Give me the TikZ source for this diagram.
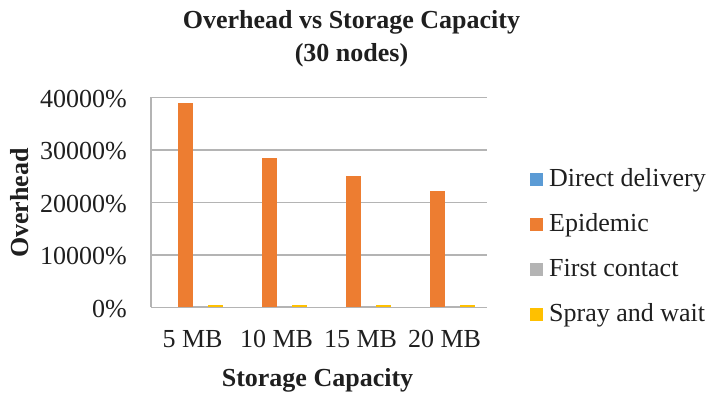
\documentclass[tikz,border=0pt]{standalone}
\usepackage{fontspec}
\setmainfont{Liberation Serif}
\definecolor{gridgray}{HTML}{B4B4B4}
\definecolor{cdd}{HTML}{5B9BD5}
\definecolor{cep}{HTML}{ED7D31}
\definecolor{cfc}{HTML}{B4B4B4}
\definecolor{csw}{HTML}{FFC000}
\begin{document}
\begin{tikzpicture}[x=1pt,y=-1pt,
  lbl/.style={font=\fontsize{26}{30}\selectfont, inner sep=0pt, text=black!88},
  blbl/.style={font=\fontsize{26}{30}\selectfont\bfseries, inner sep=0pt, text=black!88},
  gridline/.style={draw=gridgray, line width=1.4pt},
  legsq/.style={minimum size=13pt, inner sep=0pt, draw=none}]
\useasboundingbox (0,0) rectangle (711,394);
% title
\node[blbl, anchor=base] (t1) at (351.5,28) {Overhead vs Storage Capacity};
\node[blbl, anchor=base] (t2) at (351.5,61) {(30 nodes)};
% gridlines
\foreach \v/\lab [count=\i] in {0/0\%,1/10000\%,2/20000\%,3/30000\%,4/40000\%}{
  \pgfmathsetmacro{\yy}{307.3-52.5*\v}
  \draw[gridline] (151,\yy) -- (487,\yy);
  \node[lbl, anchor=base east] (yt\i) at (127,\yy+10) {\lab};
}
\draw[gridline] (151,97.3) -- (151,307.3);
% bars (heights in px: value % x 0.00525)
\foreach \c/\h/\lab [count=\i] in {192.5/204.6/5 MB, 276.5/149.3/10 MB, 360.5/131.6/15 MB, 444.5/116.3/20 MB}{
  \fill[cep] (\c-15,307.3) rectangle (\c,307.3-\h);
  \fill[cfc] (\c,306.6) rectangle (\c+15,305.8);
  \fill[csw] (\c+15,306.6) rectangle (\c+30,304.6);
  \node[lbl, anchor=base] (xl\i) at (\c,347) {\lab};
}
\draw[gridline] (151,307.3) -- (487,307.3);
% axis titles
\node[blbl, anchor=base] (xt) at (317.5,386) {Storage Capacity};
\node[blbl, anchor=base, rotate=90] (yt) at (28,203) {Overhead};
% legend
\foreach \col/\name/\yc [count=\i] in {cdd/Direct delivery/179.5, cep/Epidemic/224, cfc/First contact/269, csw/Spray and wait/314}{
  \node[legsq, fill=\col] (ls\i) at (536,\yc) {};
  \node[lbl, anchor=base west] (lt\i) at (549,\yc+7) {\name};
}
\end{tikzpicture}
\end{document}
